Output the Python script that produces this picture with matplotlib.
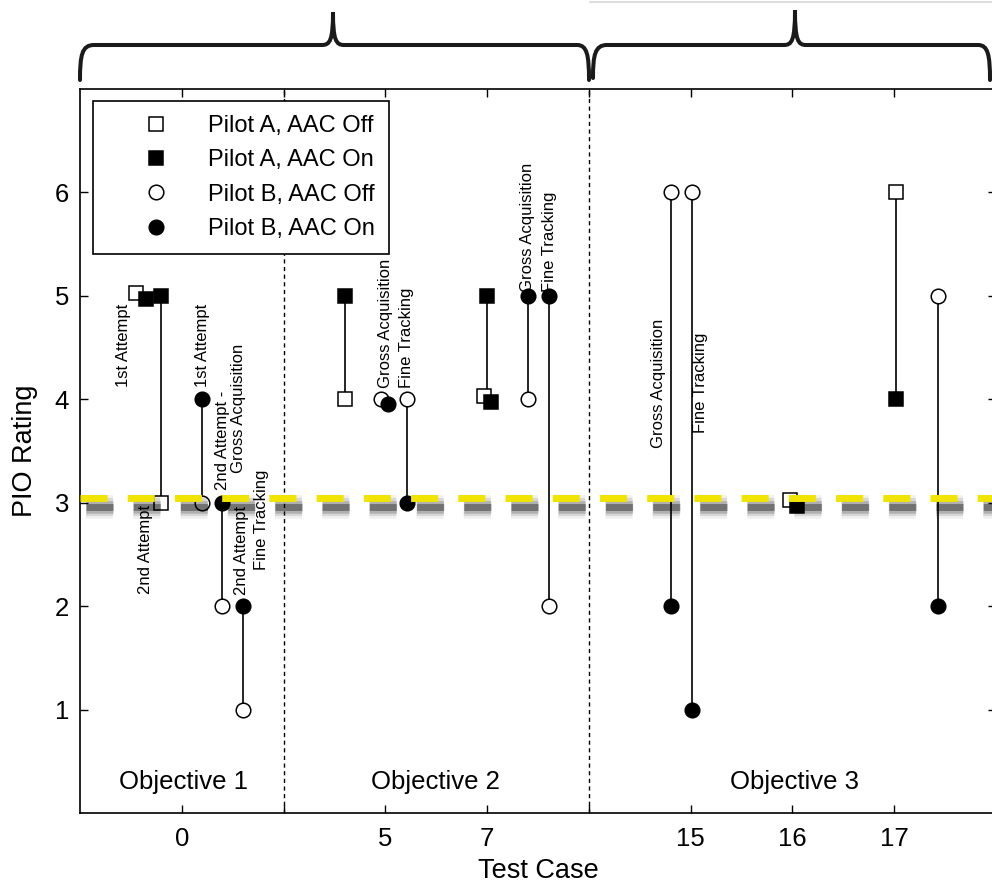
import matplotlib.pyplot as plt
import matplotlib.patheffects as pe
from matplotlib.path import Path
from matplotlib.patches import PathPatch
from matplotlib.lines import Line2D

plt.rcParams['font.family'] = ['Liberation Sans', 'DejaVu Sans']

# test case slots on the x axis (index -> label)
tick_pos = [0, 1, 2, 3, 4, 5, 6, 7]
tick_labels = ['0', '', '5', '7', '', '15', '16', '17']
objective_names = ['Objective 1', 'Objective 2', 'Objective 3']
objective_x = [0.02, 2.49, 6.02]
objective_bounds = [1, 4]

# PIO ratings per pilot / AAC state
a_off_x = [-0.45, -0.2, 1.6, 2.97, 5.98, 7.02]
a_off_y = [5.03, 3, 4, 4.03, 3.03, 6]
a_on_x = [-0.35, -0.2, 1.6, 3.04, 3.0, 6.04, 7.02]
a_on_y = [4.97, 5, 5, 3.97, 5, 2.97, 4]
b_off_x = [0.2, 0.4, 0.6, 1.96, 2.21, 3.4, 3.61, 4.81, 5.01, 7.43]
b_off_y = [3, 2, 1, 4, 4, 4, 2, 6, 6, 5]
b_on_x = [0.2, 0.4, 0.6, 2.03, 2.21, 3.4, 3.61, 4.81, 5.01, 7.43]
b_on_y = [4, 3, 2, 3.95, 3, 5, 5, 2, 1, 2]

# off/on pairs joined by a line
pair_x = [-0.2, 0.2, 0.4, 0.6, 1.6, 2.21, 3.0, 3.4, 3.61, 4.81, 5.01, 7.02, 7.43]
pair_lo = [3, 3, 2, 1, 4, 3, 4.03, 4, 2, 2, 1, 4, 2]
pair_hi = [5, 4, 3, 2, 5, 4, 5, 5, 5, 6, 6, 6, 5]

# notes written along the runs
note_text = ['1st Attempt', '2nd Attempt', '1st Attempt', '2nd Attempt -',
             'Gross Acquisition', '2nd Attempt', 'Fine Tracking',
             'Gross Acquisition', 'Fine Tracking', 'Gross Acquisition',
             'Fine Tracking', 'Gross Acquisition', 'Fine Tracking']
note_x = [-0.57, -0.36, 0.2, 0.4, 0.56, 0.59, 0.78, 2.0, 2.21, 3.4, 3.61, 4.68, 5.1]
note_y = [4.12, 2.98, 4.12, 3.12, 3.29, 2.11, 2.35, 4.11, 4.11, 5.04, 5.04, 3.53, 3.67]
note_va = ['bottom', 'top', 'bottom', 'bottom', 'bottom', 'bottom', 'bottom',
           'bottom', 'bottom', 'bottom', 'bottom', 'bottom', 'bottom']

limit_line = 3.05

W, H = 992, 886
fig = plt.figure(figsize=(W / 100, H / 100), dpi=100)
ax = fig.add_axes([80 / W, 73 / H, 916 / W, 724 / H])

ax.vlines(pair_x, pair_lo, pair_hi, color='black', lw=1.2, zorder=2)
ms = 10.5
ax.plot(a_off_x, a_off_y, 's', ms=ms, mfc='white', mec='black', mew=1.1, zorder=3, label='Pilot A, AAC Off')
ax.plot(a_on_x, a_on_y, 's', ms=ms, mfc='black', mec='black', mew=1.1, zorder=4, label='Pilot A, AAC On')
ax.plot(b_off_x, b_off_y, 'o', ms=ms, mfc='white', mec='black', mew=1.1, zorder=3, label='Pilot B, AAC Off')
ax.plot(b_on_x, b_on_y, 'o', ms=ms, mfc='black', mec='black', mew=1.1, zorder=4, label='Pilot B, AAC On')

for xb in objective_bounds:
    ax.axvline(xb, color='black', lw=1.0, ls=(0, (3, 2.5)), zorder=1)

for t, x, y, va in zip(note_text, note_x, note_y, note_va):
    ax.text(x, y, t, rotation=90, ha='center', va=va, fontsize=12)

for name, x in zip(objective_names, objective_x):
    ax.text(x, 0.3, name, ha='center', va='center', fontsize=18.5)

# yellow limit line with a soft shadow
shadow = [pe.SimpleLineShadow(offset=(4, -7), shadow_color='black', alpha=0.06, linewidth=17),
          pe.SimpleLineShadow(offset=(4, -7), shadow_color='black', alpha=0.10, linewidth=13),
          pe.SimpleLineShadow(offset=(4, -7), shadow_color='black', alpha=0.18, linewidth=9),
          pe.SimpleLineShadow(offset=(4, -7), shadow_color='black', alpha=0.35, linewidth=5),
          pe.Normal()]
ax.axhline(limit_line, color='#f0e400', lw=5, ls=(0, (3.9, 2.9)), zorder=10, path_effects=shadow)

ax.set_xlim(-1, 8)
ax.set_ylim(0, 7)
ax.set_xticks(tick_pos)
ax.set_xticklabels(tick_labels)
ax.set_yticks([1, 2, 3, 4, 5, 6])
ax.tick_params(direction='in', top=True, right=True, length=6, width=1.0,
               labelsize=18.5, pad=8)
ax.tick_params(axis='x', pad=10)
for s in ax.spines.values():
    s.set_linewidth(1.2)
ax.set_xlabel('Test Case', fontsize=19.5, labelpad=5)
ax.set_ylabel('PIO Rating', fontsize=19.5, labelpad=12)

leg = ax.legend(loc='upper left', bbox_to_anchor=(13 / 916, 712 / 724), borderaxespad=0,
                fontsize=17, handlelength=4.1, handletextpad=0.17, labelspacing=0.52,
                fancybox=False, framealpha=1, edgecolor='black', borderpad=0.6)
leg.get_frame().set_linewidth(1.2)
leg.set_zorder(20)


def brace(pts):
    verts = [(x / W, 1 - y / H) for x, y in pts]
    codes = [Path.MOVETO] + [Path.CURVE4] * 3 + [Path.LINETO] + [Path.CURVE4] * 6 + \
            [Path.LINETO] + [Path.CURVE4] * 3
    fig.patches.append(PathPatch(Path(verts, codes), transform=fig.transFigure,
                                 fill=False, lw=2.9, color='#1a1a1a', capstyle='round'))


brace([(80, 80), (80, 55), (82, 45), (94, 45), (322, 45),
       (330, 45), (333, 40), (333, 12), (333, 40), (336, 45), (344, 45),
       (577, 45), (587, 45), (589, 55), (589, 80)])
brace([(593, 78), (593, 55), (595, 45), (607, 45), (784, 45),
       (792, 45), (795, 40), (795, 10), (795, 40), (798, 45), (806, 45),
       (978, 45), (988, 45), (990, 55), (990, 80)])

fig.add_artist(Line2D([590 / W, 1], [1 - 1.5 / H, 1 - 1.5 / H], transform=fig.transFigure,
                      color='#d8d8d8', lw=1.2))

fig.savefig('out.png', dpi=100)
